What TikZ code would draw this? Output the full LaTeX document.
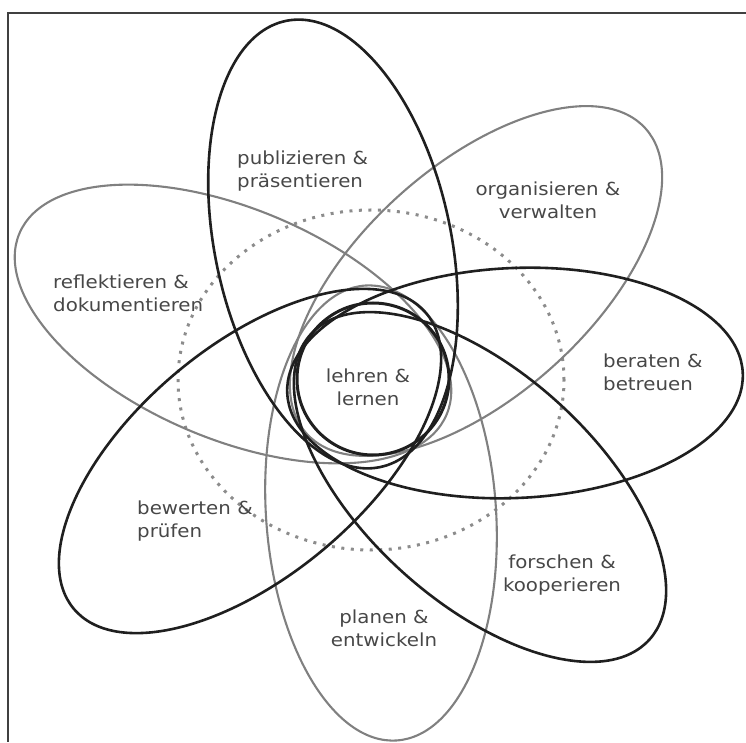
\documentclass[tikz,border=0pt]{standalone}
\usepackage{fontspec}
\setmainfont{DejaVu Sans}
\begin{document}
\begin{tikzpicture}[x=1pt,y=1pt,
  blk/.style={draw=black!88, line width=2.6pt},
  gry/.style={draw=black!50, line width=2.1pt},
  dots/.style={draw=black!45, line width=3pt, dash pattern=on 3pt off 6.5pt},
  frame/.style={draw=black!75, line width=1.3pt},
  lbl/.style={text=black!72, font=\fontsize{18}{23}\selectfont, xscale=1.1, inner sep=0pt},
  lblL/.style={lbl, align=left, anchor=west},
  lblC/.style={lbl, align=center, anchor=center}]
\useasboundingbox (0,0) rectangle (746,742);
% frame
\coordinate (fTL) at (8,729);
\coordinate (fTR) at (746,729);
\coordinate (fBL) at (8,0);
\draw[frame] (fTR) -- (fTL) -- (fBL);
% dotted ellipse
\draw[dots] (371,362) ellipse [x radius=193, y radius=170];
% gray petals
\draw[gry, rotate around={42:(476,461)}] (476,461) ellipse [x radius=228, y radius=115];
\draw[gry, rotate around={-86:(381,229)}] (381,229) ellipse [x radius=228, y radius=115];
\draw[gry, rotate around={-23:(233,418)}] (233,418) ellipse [x radius=232, y radius=115];
% black petals
\draw[blk, rotate around={102:(333,498)}] (333,498) ellipse [x radius=228, y radius=118];
\draw[blk, rotate around={2.5:(515,359)}] (515,359) ellipse [x radius=228, y radius=115];
\draw[blk, rotate around={-42:(480,255)}] (480,255) ellipse [x radius=228, y radius=115];
\draw[blk, rotate around={40:(250,281)}] (250,281) ellipse [x radius=230, y radius=115];
% centre circle
\draw[blk, line width=3pt] (373,363) circle [radius=76];
% labels
\node[lblC] (lehren) at (368,355) {lehren \&\\lernen};
\node[lblL] (publ) at (237,571) {publizieren \&\\präsentieren};
\node[lblC] (orga) at (548,542) {organisieren \&\\verwalten};
\node[lblL] (bera) at (603,370) {beraten \&\\betreuen};
\node[lblC] (fors) at (562,167) {forschen \&\\kooperieren};
\node[lblC] (plan) at (384,114) {planen \&\\entwickeln};
\node[lblL] (bewe) at (137,221) {bewerten \&\\prüfen};
\node[lblL] (refl) at (53,449) {reflektieren \&\\dokumentieren};
\end{tikzpicture}
\end{document}
